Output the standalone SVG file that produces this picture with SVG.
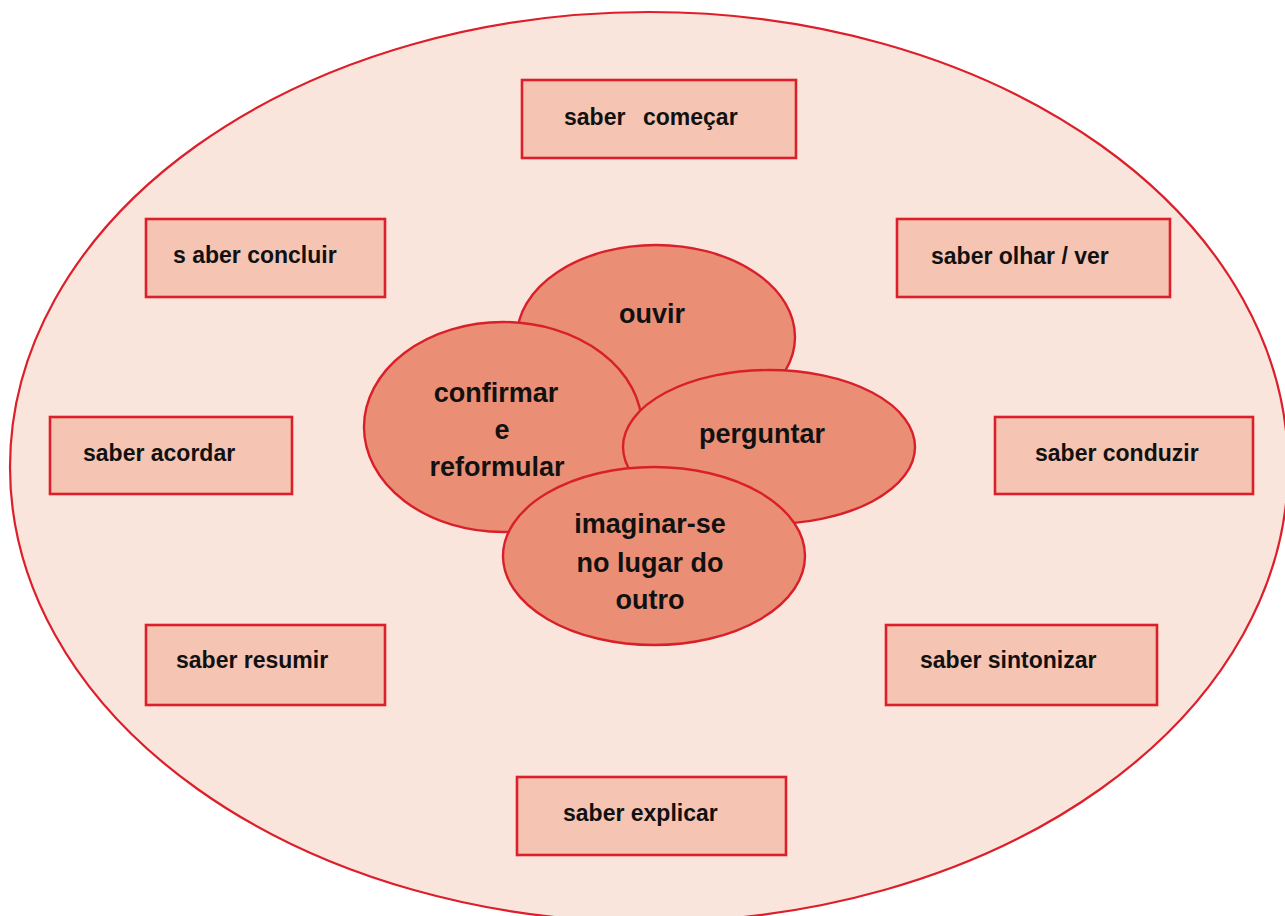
<svg xmlns="http://www.w3.org/2000/svg" width="1285" height="916" viewBox="0 0 1285 916">
<style>
.bg{fill:#fae5dc;stroke:#dc1f2a;stroke-width:2.2}
.box{fill:#f6c4b2;stroke:#dc1f2a;stroke-width:2.6}
.oval{fill:#ea8f75;stroke:#d9202a;stroke-width:2.4}
.t{font-family:"Liberation Sans",Arial,sans-serif;font-weight:bold;font-size:23px;fill:#111}
.c{font-family:"Liberation Sans",Arial,sans-serif;font-weight:bold;font-size:27px;fill:#111;text-anchor:middle}
</style>
<rect width="1285" height="916" fill="#ffffff"/>
<g id="outer"><ellipse class="bg" cx="649" cy="467" rx="639" ry="455"/></g>
<g id="connectors"></g>
<g id="n-comecar"><rect class="box" x="522" y="80" width="274" height="78"/><text class="t" y="125"><tspan x="564">saber</tspan><tspan x="643">começar</tspan></text></g>
<g id="n-concluir"><rect class="box" x="146" y="219" width="239" height="78"/><text class="t" x="173" y="263">s aber concluir</text></g>
<g id="n-olhar"><rect class="box" x="897" y="219" width="273" height="78"/><text class="t" x="931" y="264">saber olhar / ver</text></g>
<g id="n-acordar"><rect class="box" x="50" y="417" width="242" height="77"/><text class="t" x="83" y="461">saber acordar</text></g>
<g id="n-conduzir"><rect class="box" x="995" y="417" width="258" height="77"/><text class="t" x="1035" y="461">saber conduzir</text></g>
<g id="n-resumir"><rect class="box" x="146" y="625" width="239" height="80"/><text class="t" x="176" y="668">saber resumir</text></g>
<g id="n-sintonizar"><rect class="box" x="886" y="625" width="271" height="80"/><text class="t" x="920" y="668">saber sintonizar</text></g>
<g id="n-explicar"><rect class="box" x="517" y="777" width="269" height="78"/><text class="t" x="563" y="821">saber explicar</text></g>
<g id="n-ouvir"><ellipse class="oval" cx="656" cy="337" rx="139" ry="92"/><text class="c" x="652" y="323">ouvir</text></g>
<g id="n-confirmar"><ellipse class="oval" cx="503" cy="427" rx="139" ry="105"/><text class="c"><tspan x="496" y="402">confirmar</tspan><tspan x="502" y="439">e</tspan><tspan x="497" y="476">reformular</tspan></text></g>
<g id="n-perguntar"><ellipse class="oval" cx="769" cy="447" rx="146" ry="77"/><text class="c" x="762" y="443">perguntar</text></g>
<g id="n-imaginar"><ellipse class="oval" cx="654" cy="556" rx="151" ry="89"/><text class="c"><tspan x="650" y="533">imaginar-se</tspan><tspan x="650" y="572">no lugar do</tspan><tspan x="650" y="609">outro</tspan></text></g>
</svg>
